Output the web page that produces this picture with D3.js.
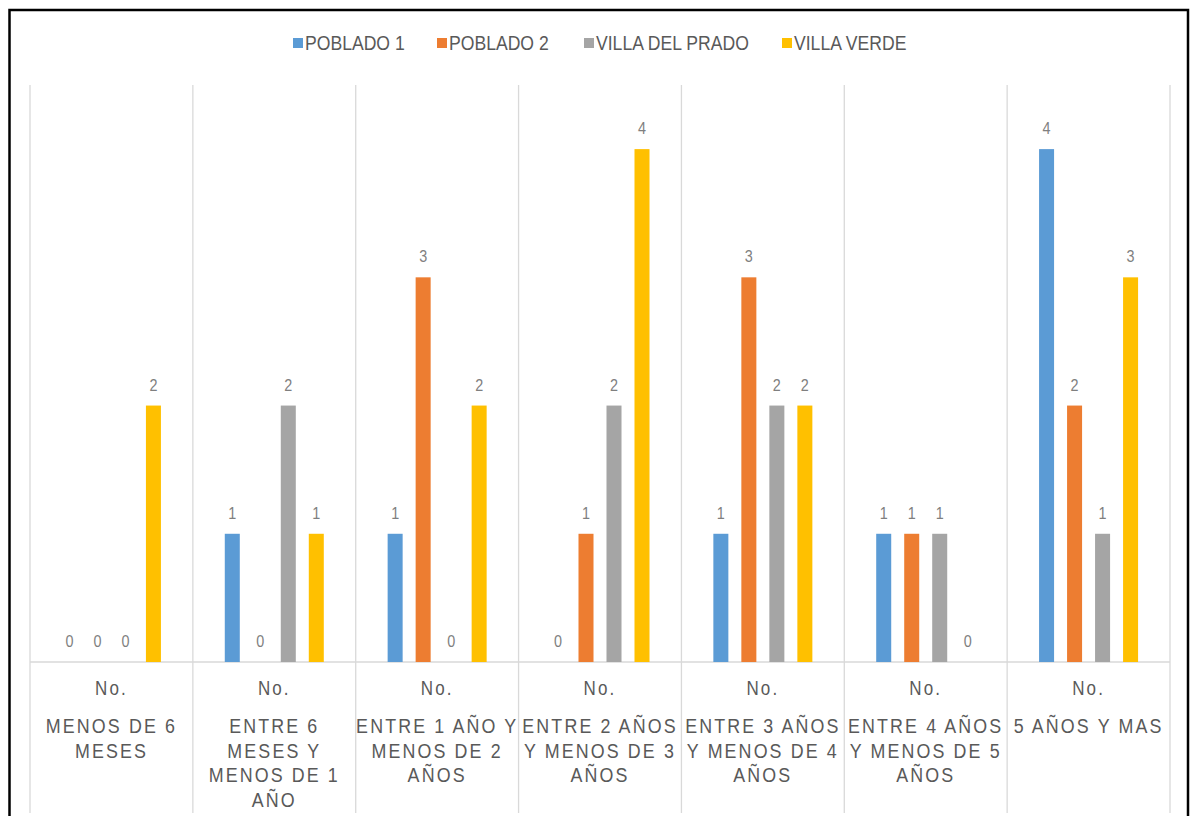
<html>
<head>
  <script src="https://d3js.org/d3.v7.min.js"></script>
  <style>
  body { margin: 0; background: #fff; }
  text { font-family: "Liberation Sans", Arial, sans-serif; }
  .grid { stroke: #d9d9d9; stroke-width: 1.3px; }
  </style>
</head>
<body>
  <svg id="chart" width="1191" height="816"></svg>
  <script>

  const categories = ["MENOS DE 6 MESES", "ENTRE 6 MESES Y MENOS DE 1 AÑO", "ENTRE 1 AÑO Y MENOS DE 2 AÑOS",
                      "ENTRE 2 AÑOS Y MENOS DE 3 AÑOS", "ENTRE 3 AÑOS Y MENOS DE 4 AÑOS",
                      "ENTRE 4 AÑOS Y MENOS DE 5 AÑOS", "5 AÑOS Y MAS"];
  const categoryLines = [["MENOS DE 6", "MESES"], ["ENTRE 6", "MESES Y", "MENOS DE 1", "AÑO"],
                         ["ENTRE 1 AÑO Y", "MENOS DE 2", "AÑOS"], ["ENTRE 2 AÑOS", "Y MENOS DE 3", "AÑOS"],
                         ["ENTRE 3 AÑOS", "Y MENOS DE 4", "AÑOS"], ["ENTRE 4 AÑOS", "Y MENOS DE 5", "AÑOS"],
                         ["5 AÑOS Y MAS"]];
  const subLabel = "No.";
  const series = ["POBLADO 1", "POBLADO 2", "VILLA DEL PRADO", "VILLA VERDE"];
  const colors = ["#5b9bd5", "#ed7d31", "#a5a5a5", "#ffc000"];
  const poblado1 = [0, 1, 1, 0, 1, 1, 4];
  const poblado2 = [0, 0, 3, 1, 3, 1, 2];
  const villaPrado = [0, 2, 0, 2, 2, 1, 1];
  const villaVerde = [2, 1, 2, 4, 2, 0, 3];
  const values = [poblado1, poblado2, villaPrado, villaVerde];

  const svg = d3.select("#chart");
  const narrow = 0.85;   // no narrow font installed, squeeze text instead

  // outer frame
  svg.append("rect")
     .attr("x", 9.5).attr("y", 10)
     .attr("width", 1178.5).attr("height", 900)
     .attr("fill", "none").attr("stroke", "#000").attr("stroke-width", 2.5);

  const x0 = d3.scaleBand().domain(categories).range([30, 1170]);
  const x1 = d3.scaleBand().domain(series).range([0, x0.bandwidth()])
               .paddingInner(0.464).paddingOuter(1.14);
  const y = d3.scaleLinear().domain([0, 4.5]).range([662, 85]);
  const color = d3.scaleOrdinal().domain(series).range(colors);

  // vertical separators
  const bounds = categories.map(c => x0(c)).concat([x0.range()[1]]);
  svg.selectAll("line.vgrid").data(bounds)
     .join("line")
     .attr("class", "grid vgrid")
     .attr("x1", d => d).attr("x2", d => d)
     .attr("y1", y(4.5)).attr("y2", 813);

  // baseline
  svg.append("line")
     .attr("class", "grid")
     .attr("x1", x0.range()[0]).attr("x2", x0.range()[1])
     .attr("y1", y(0)).attr("y2", y(0));

  const rows = [];
  categories.forEach((c, i) => {
    series.forEach((s, j) => rows.push({ cat: c, ser: s, v: values[j][i] }));
  });

  svg.append("g").selectAll("rect").data(rows)
     .join("rect")
     .attr("x", d => x0(d.cat) + x1(d.ser))
     .attr("width", x1.bandwidth())
     .attr("y", d => y(d.v))
     .attr("height", d => y(0) - y(d.v))
     .attr("fill", d => color(d.ser));

  svg.append("g").selectAll("text").data(rows)
     .join("text")
     .attr("transform", d => "translate(" + (x0(d.cat) + x1(d.ser) + x1.bandwidth() / 2) + "," + (y(d.v) - 15) + ") scale(0.9,1)")
     .attr("text-anchor", "middle")
     .attr("fill", "#7f7f7f")
     .style("font-size", "16px")
     .text(d => d.v);

  // category axis labels
  const axisG = svg.append("g");
  categories.forEach((c, i) => {
    const cx = x0(c) + x0.bandwidth() / 2;
    axisG.append("text")
         .attr("transform", "translate(" + cx + ",695) scale(" + narrow + ",1)")
         .attr("text-anchor", "middle")
         .attr("fill", "#595959")
         .style("font-size", "20px")
         .style("letter-spacing", "2.5px")
         .text(subLabel);
    categoryLines[i].forEach((ln, k) => {
      axisG.append("text")
           .attr("transform", "translate(" + cx + "," + (733 + k * 24.5) + ") scale(" + narrow + ",1)")
           .attr("text-anchor", "middle")
           .attr("fill", "#595959")
           .style("font-size", "21px")
           .style("letter-spacing", "2.5px")
           .text(ln);
    });
  });

  // legend
  const legendX = [293, 437, 584, 782];
  const legend = svg.append("g").selectAll("g").data(series)
     .join("g")
     .attr("transform", (d, i) => "translate(" + legendX[i] + ",38)");
  legend.append("rect")
     .attr("width", 10).attr("height", 10)
     .attr("fill", d => color(d));
  legend.append("text")
     .attr("transform", "translate(12,12) scale(0.88,1)")
     .attr("fill", "#595959")
     .style("font-size", "20px")
     .text(d => d);

  </script>
</body>
</html>
